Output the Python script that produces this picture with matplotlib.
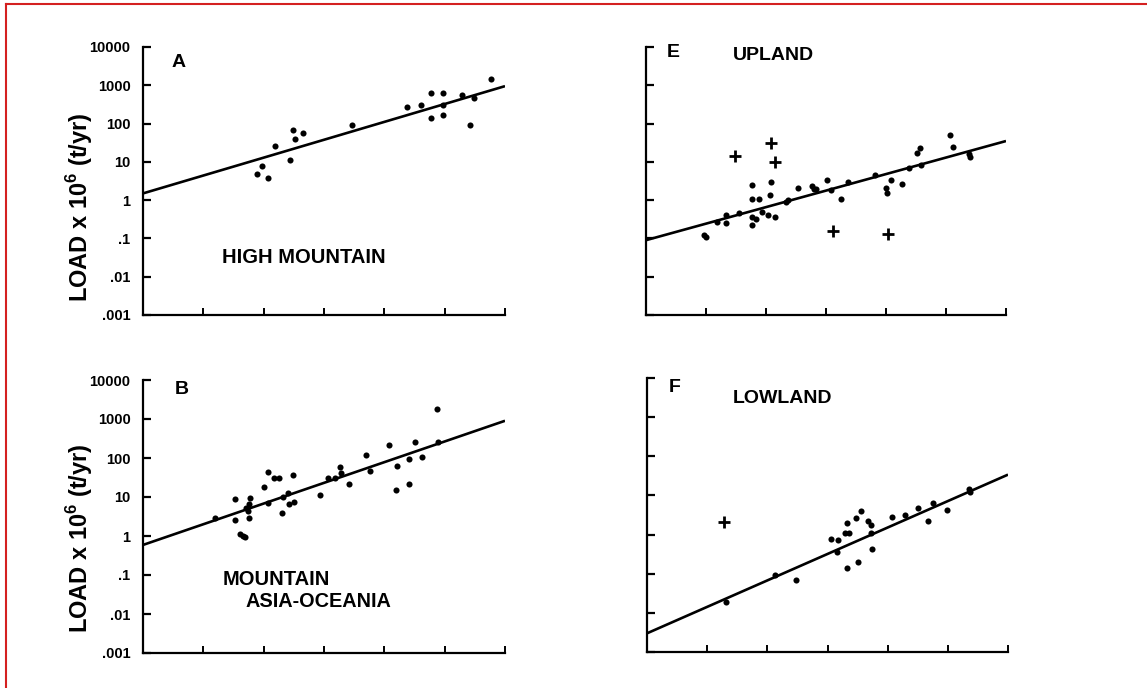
import matplotlib
matplotlib.use('Agg')
import matplotlib.pyplot as plt
from matplotlib.lines import Line2D

plt.rcParams['font.family'] = ['Liberation Sans', 'DejaVu Sans']
plt.rcParams['mathtext.fontset'] = 'custom'
plt.rcParams['mathtext.bf'] = 'Liberation Sans:bold'

# x is in units of the (unlabelled) x tick spacing, 0..6
ytick_vals = [0.001, 0.01, 0.1, 1, 10, 100, 1000, 10000]
ytick_labels = ['.001', '.01', '.1', '1', '10', '100', '1000', '10000']

# A - high mountain
a_x = [1.89, 1.98, 2.07, 2.19, 2.43, 2.49, 2.52, 2.65, 3.47, 4.38, 4.61, 4.78,
       4.78, 4.98, 4.98, 4.98, 5.28, 5.42, 5.49, 5.77]
a_y = [4.7, 7.8, 3.9, 26, 11, 69, 40, 56, 91, 270, 300, 640,
       140, 640, 170, 300, 560, 91, 475, 1440]
a_line_x = [0, 6]
a_line_y = [1.5, 950]

# B - mountain asia-oceania
b_x = [1.19, 1.52, 1.53, 1.60, 1.65, 1.69, 1.71, 1.74, 1.76, 1.78, 1.76, 2.00,
       2.07, 2.08, 2.17, 2.25, 2.31, 2.32, 2.40, 2.42, 2.49, 2.50, 2.94, 3.07,
       3.18, 3.27, 3.29, 3.41, 3.70, 3.77, 4.07, 4.19, 4.21, 4.41, 4.41, 4.50,
       4.63, 4.88, 4.89]
b_y = [2.9, 8.9, 2.6, 1.1, 1.0, 0.93, 5.2, 4.3, 2.9, 9.5, 6.5, 18,
       45, 7.1, 30, 30, 3.9, 10, 13, 6.5, 36, 7.4, 11, 30,
       30, 58, 41, 22, 120, 47, 210, 15.5, 63, 22, 93, 257,
       107, 1780, 257]
b_line_x = [0, 6]
b_line_y = [0.59, 900]

# E - upland
e_x = [0.96, 1.00, 1.18, 1.33, 1.34, 1.55, 1.76, 1.76, 1.88, 1.76, 1.76, 1.84,
       1.93, 2.04, 2.15, 2.08, 2.07, 2.33, 2.37, 2.53, 2.77, 2.80, 2.84, 3.02,
       3.08, 3.25, 3.36, 3.82, 4.00, 4.01, 4.08, 4.26, 4.38, 4.51, 4.56, 4.59,
       5.07, 5.11, 5.39, 5.40]
e_y = [0.12, 0.11, 0.27, 0.41, 0.26, 0.47, 2.5, 1.1, 1.1, 0.36, 0.23, 0.33,
       0.49, 0.42, 0.36, 2.9, 1.35, 0.91, 1.0, 2.1, 2.3, 2.0, 2.0, 3.3,
       1.8, 1.1, 2.9, 4.6, 2.1, 1.5, 3.4, 2.6, 6.8, 17, 23, 8.3,
       49, 24, 16, 13]
e_plus_x = [1.49, 2.08, 2.15, 3.12, 4.04]
e_plus_y = [14, 31, 10, 0.155, 0.13]
e_line_x = [0, 6]
e_line_y = [0.09, 35]

# F - lowland
f_x = [1.31, 2.13, 2.47, 3.05, 3.15, 3.18, 3.29, 3.33, 3.33, 3.36, 3.47, 3.51,
       3.56, 3.67, 3.73, 3.74, 3.73, 4.08, 4.28, 4.50, 4.67, 4.75, 4.99, 5.36,
       5.37]
f_y = [0.019, 0.093, 0.068, 0.79, 0.36, 0.71, 1.07, 2.0, 0.14, 1.1, 2.6, 0.2,
       4.0, 2.2, 1.8, 0.42, 1.1, 2.75, 3.1, 4.8, 2.2, 6.5, 4.2, 14.8,
       12.3]
f_plus_x = [1.28]
f_plus_y = [2.1]
f_line_x = [0, 6]
f_line_y = [0.003, 34]

fig = plt.figure(figsize=(11.47, 6.88), dpi=100)
W, H = 1147, 688


def make_axes(px_left, px_right, px_top, px_bottom):
    return fig.add_axes([px_left / W, 1 - px_bottom / H,
                         (px_right - px_left) / W, (px_bottom - px_top) / H])


def style(ax, labels):
    ax.set_yscale('log')
    ax.set_xlim(0, 6)
    ax.set_ylim(0.001, 10000)
    for s in ['top', 'right']:
        ax.spines[s].set_visible(False)
    for s in ['left', 'bottom']:
        ax.spines[s].set_linewidth(1.6)
    ax.set_xticks(range(7))
    ax.set_xticklabels([])
    ax.set_yticks(ytick_vals)
    ax.yaxis.set_minor_locator(matplotlib.ticker.NullLocator())
    if labels:
        ax.set_yticklabels(ytick_labels, fontsize=10.5, fontweight='bold')
    else:
        ax.set_yticklabels([])
    ax.tick_params(axis='y', direction='in', length=6, width=1.6, pad=9)
    ax.tick_params(axis='x', direction='in', length=5, width=1.4)
    ax.patch.set_alpha(0)


def draw(ax, x, y, lx, ly, px=None, py=None):
    ax.plot(lx, ly, color='black', lw=1.9, solid_capstyle='butt')
    ax.plot(x, y, 'o', color='black', ms=4.4, mew=0)
    if px is not None:
        ax.plot(px, py, '+', color='black', ms=8, mew=2)


axA = make_axes(143, 505, 47, 315)
style(axA, True)
draw(axA, a_x, a_y, a_line_x, a_line_y)
axA.text(0.097, 0.944, 'A', transform=axA.transAxes, fontsize=14,
         fontweight='bold', ha='center', va='center')
axA.text(0.218, 0.216, 'HIGH MOUNTAIN', transform=axA.transAxes, fontsize=14.5,
         fontweight='bold', ha='left', va='center')

axE = make_axes(646, 1006, 47, 315)
style(axE, False)
draw(axE, e_x, e_y, e_line_x, e_line_y, e_plus_x, e_plus_y)
axE.text(0.075, 0.98, 'E', transform=axE.transAxes, fontsize=14,
         fontweight='bold', ha='center', va='center')
axE.text(0.24, 0.97, 'UPLAND', transform=axE.transAxes, fontsize=14,
         fontweight='bold', ha='left', va='center')

axB = make_axes(143, 505, 380, 653)
style(axB, True)
draw(axB, b_x, b_y, b_line_x, b_line_y)
axB.text(0.108, 0.967, 'B', transform=axB.transAxes, fontsize=14,
         fontweight='bold', ha='center', va='center')
axB.text(0.221, 0.271, 'MOUNTAIN', transform=axB.transAxes, fontsize=14.5,
         fontweight='bold', ha='left', va='center')
axB.text(0.282, 0.187, 'ASIA-OCEANIA', transform=axB.transAxes, fontsize=14.3,
         fontweight='bold', ha='left', va='center')

axF = make_axes(647, 1008, 378, 652)
style(axF, False)
draw(axF, f_x, f_y, f_line_x, f_line_y, f_plus_x, f_plus_y)
axF.text(0.078, 0.967, 'F', transform=axF.transAxes, fontsize=14,
         fontweight='bold', ha='center', va='center')
axF.text(0.237, 0.927, 'LOWLAND', transform=axF.transAxes, fontsize=14,
         fontweight='bold', ha='left', va='center')

ylab = r'LOAD x 10$^{\mathbf{6}}$ (t/yr)'
fig.text(80 / W, 1 - 207 / H, ylab, rotation=90, fontsize=17,
         fontweight='bold', ha='center', va='center')
fig.text(80 / W, 1 - 538 / H, ylab, rotation=90, fontsize=17,
         fontweight='bold', ha='center', va='center')

# red frame of the original image
fig.add_artist(Line2D([6 / W, 1], [1 - 4 / H, 1 - 4 / H], color='#d42020', lw=1.5))
fig.add_artist(Line2D([6 / W, 6 / W], [0, 1 - 4 / H], color='#d42020', lw=1.5))

fig.savefig('out.png', dpi=100)
